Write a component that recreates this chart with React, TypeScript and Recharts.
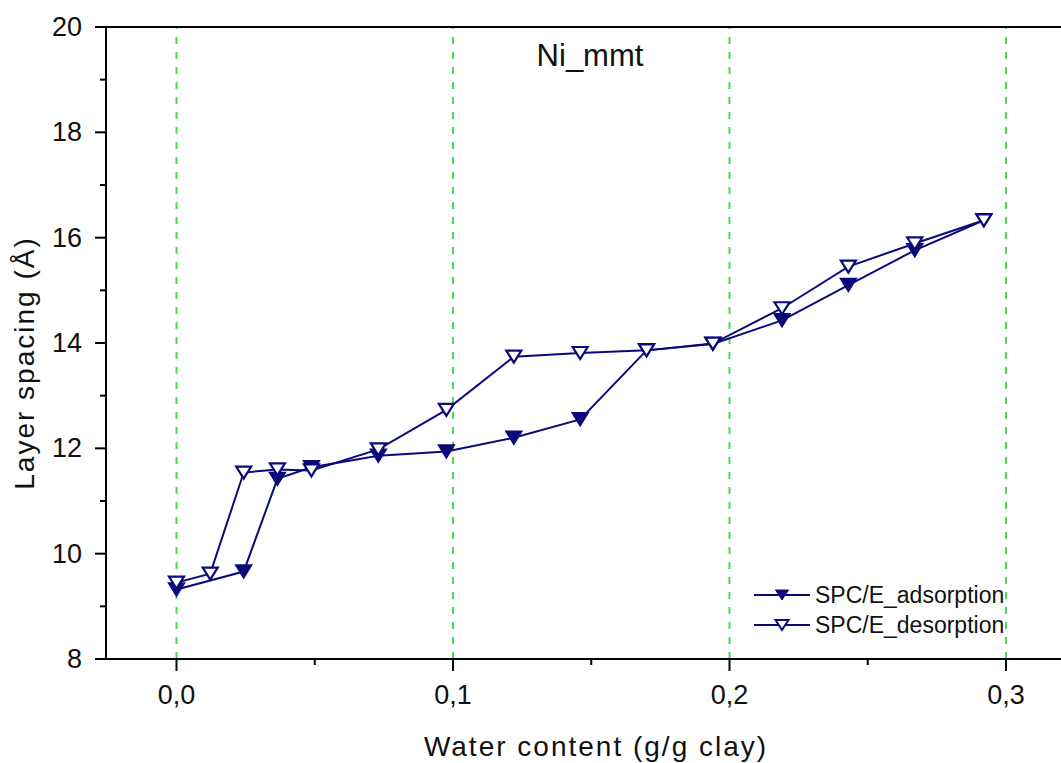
import { LineChart, Line, XAxis, YAxis, ReferenceLine, Legend } from 'recharts';

const FONT = '"Liberation Sans", Arial, sans-serif';
const NAVY = '#0a0a7a';
const GRID_GREEN = '#4fd84f';

// water content (g/g clay) and layer spacing (Å)
const adsWater = [0, 0.0243, 0.0365, 0.0488, 0.073, 0.0976, 0.122, 0.146, 0.17, 0.194, 0.219, 0.243, 0.267, 0.292];
const adsSpacing = [9.32, 9.66, 11.42, 11.64, 11.86, 11.94, 12.2, 12.55, 13.86, 13.98, 14.43, 15.1, 15.76, 16.33];

const desWater = [0, 0.0122, 0.0243, 0.0365, 0.0488, 0.073, 0.0976, 0.122, 0.146, 0.17, 0.194, 0.219, 0.243, 0.267, 0.292];
const desSpacing = [9.45, 9.62, 11.54, 11.6, 11.58, 11.98, 12.73, 13.74, 13.81, 13.86, 13.99, 14.66, 15.45, 15.89, 16.33];

const xTicks = [0, 0.05, 0.1, 0.15, 0.2, 0.25, 0.3];
const yTicks = [8, 9, 10, 11, 12, 13, 14, 15, 16, 17, 18, 19, 20];
const gridLines = [0, 0.1, 0.2, 0.3];

const seriesNames = ['SPC/E_adsorption', 'SPC/E_desorption'];

const adsData = adsWater.map((x, i) => ({ x, y: adsSpacing[i] }));
const desData = desWater.map((x, i) => ({ x, y: desSpacing[i] }));

function triangle(cx: number, cy: number, w: number, h: number) {
  return `${cx - w / 2},${cy - h / 2} ${cx + w / 2},${cy - h / 2} ${cx},${cy + h / 2}`;
}

const FilledDot = (props: any) => {
  const { cx, cy } = props;
  if (cx == null || cy == null) return null;
  return <polygon points={triangle(cx, cy, 16, 13)} fill={NAVY} stroke={NAVY} strokeWidth={1.5} />;
};

const OpenDot = (props: any) => {
  const { cx, cy } = props;
  if (cx == null || cy == null) return null;
  return <polygon points={triangle(cx, cy, 15, 12)} fill="#fff" stroke={NAVY} strokeWidth={2.2} />;
};

const XTick = ({ x, y, payload }: any) => {
  const major = Math.round(payload.value * 100) % 10 === 0;
  return (
    <g>
      <line x1={x} x2={x} y1={y} y2={y + (major ? 12 : 6)} stroke="#000" strokeWidth={2} />
      {major && (
        <text x={x} y={y + 45} textAnchor="middle" fontSize={27} fontFamily={FONT} fill="#111">
          {payload.value.toFixed(1).replace('.', ',')}
        </text>
      )}
    </g>
  );
};

const YTick = ({ x, y, payload }: any) => {
  const major = payload.value % 2 === 0;
  return (
    <g>
      <line x1={x} x2={x - (major ? 11 : 6)} y1={y} y2={y} stroke="#000" strokeWidth={2} />
      {major && (
        <text x={x - 24} y={y + 9} textAnchor="end" fontSize={27} fontFamily={FONT} fill="#111">
          {payload.value}
        </text>
      )}
    </g>
  );
};

const LegendBox = () => (
  <div style={{ fontFamily: FONT, fontSize: 23, color: '#111' }}>
    {seriesNames.map((name, i) => (
      <div key={name} style={{ display: 'flex', alignItems: 'center', height: 30 }}>
        <svg width={62} height={20}>
          <line x1={2} x2={58} y1={10} y2={10} stroke={NAVY} strokeWidth={2} />
          {i === 0 ? (
            <polygon points={triangle(30, 10, 13, 10)} fill={NAVY} stroke={NAVY} strokeWidth={1} />
          ) : (
            <polygon points={triangle(30, 10, 13, 10)} fill="#fff" stroke={NAVY} strokeWidth={2} />
          )}
        </svg>
        <span style={{ marginLeft: 1 }}>{name}</span>
      </div>
    ))}
  </div>
);

export default function App() {
  return (
    <div style={{ position: 'fixed', left: 0, top: 0, width: 1061, height: 763, overflow: 'hidden', background: '#fff' }}>
      <LineChart width={1061} height={763} margin={{ top: 27, right: 0, bottom: 0, left: 0 }}>
        <XAxis
          type="number"
          dataKey="x"
          domain={[-0.0255, 0.3199]}
          ticks={xTicks}
          interval={0}
          allowDataOverflow
          height={104}
          tickSize={0}
          tickMargin={0}
          tick={<XTick />}
          axisLine={{ stroke: '#000', strokeWidth: 2 }}
          label={{
            content: () => (
              <text x={596} y={756} textAnchor="middle" fontSize={28} letterSpacing={2} fontFamily={FONT} fill="#111">
                Water content (g/g clay)
              </text>
            ),
          }}
        />
        <YAxis
          type="number"
          domain={[8, 20]}
          ticks={yTicks}
          interval={0}
          width={106}
          tickSize={0}
          tickMargin={0}
          tick={<YTick />}
          axisLine={{ stroke: '#000', strokeWidth: 2 }}
          label={{
            content: () => (
              <text
                x={34}
                y={363}
                transform="rotate(-90, 34, 363)"
                textAnchor="middle"
                fontSize={28}
                letterSpacing={2}
                fontFamily={FONT}
                fill="#111"
              >
                Layer spacing (Å)
              </text>
            ),
          }}
        />
        {gridLines.map((g) => (
          <ReferenceLine key={g} x={g} stroke={GRID_GREEN} strokeWidth={2} strokeDasharray="7 8" />
        ))}
        <ReferenceLine y={20} stroke="#000" strokeWidth={2} />
        <Legend
          layout="vertical"
          align="center"
          verticalAlign="middle"
          content={<LegendBox />}
          wrapperStyle={{ left: 752, top: 580, width: 290 }}
        />
        <Line
          data={adsData}
          dataKey="y"
          name={seriesNames[0]}
          stroke={NAVY}
          strokeWidth={2}
          dot={<FilledDot />}
          activeDot={false}
          isAnimationActive={false}
        />
        <Line
          data={desData}
          dataKey="y"
          name={seriesNames[1]}
          stroke={NAVY}
          strokeWidth={2}
          dot={<OpenDot />}
          activeDot={false}
          isAnimationActive={false}
        />
      </LineChart>
      <div
        style={{
          position: 'absolute',
          left: 490,
          top: 38,
          width: 200,
          textAlign: 'center',
          fontFamily: FONT,
          fontSize: 31,
          color: '#111',
        }}
      >
        Ni_mmt
      </div>
    </div>
  );
}
